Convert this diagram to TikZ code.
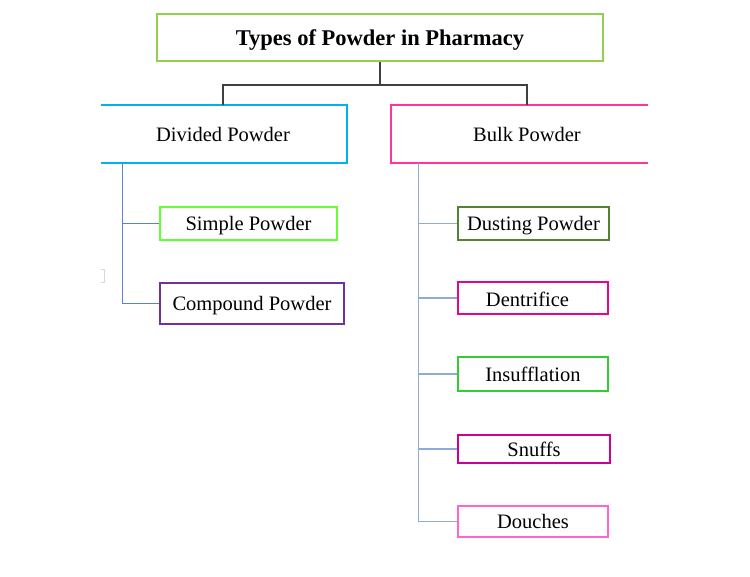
\documentclass[tikz,border=0pt]{standalone}
\usepackage{fontspec}
\setmainfont{Liberation Serif}
\definecolor{cTitle}{HTML}{92D050}
\definecolor{cDiv}{HTML}{00B0F0}
\definecolor{cBulk}{HTML}{FF3399}
\definecolor{cSimple}{HTML}{66FF33}
\definecolor{cComp}{HTML}{7030A0}
\definecolor{cDust}{HTML}{548235}
\definecolor{cDent}{HTML}{E0088F}
\definecolor{cInsuf}{HTML}{33CC33}
\definecolor{cSnuff}{HTML}{CC0099}
\definecolor{cDouch}{HTML}{FF66CC}
\definecolor{cTrunk}{HTML}{404040}
\definecolor{cBrL}{HTML}{5B82D0}
\definecolor{cBrR}{HTML}{8EAADB}
\tikzset{
  txt/.style={font=\fontsize{20.5}{24}\selectfont, text=black, inner sep=0pt, text height=14.5pt, text depth=0.1pt},
  box/.style={draw, line width=2pt, fill=white, inner sep=0pt, font=\fontsize{20.5}{24}\selectfont, text height=14.5pt, text depth=0.1pt},
  trunk/.style={draw=cTrunk, line width=1.2pt},
  brL/.style={draw=cBrL, line width=1.3pt},
  brR/.style={draw=cBrR, line width=1.3pt},
}
\begin{document}
\begin{tikzpicture}[x=1pt,y=-1pt]
\useasboundingbox (0,0) rectangle (750,577);
% title
\node[box, draw=cTitle, minimum width=446pt, minimum height=47pt, text height=16pt, text depth=0.2pt,
  font=\fontsize{22.5}{26}\selectfont\bfseries] (title) at (380,37.5) {Types of Powder in Pharmacy};
% level 1 boxes (open on one side)
\node[inner sep=0pt, minimum width=246pt, minimum height=58pt] (div) at (224,134) {};
\draw[cDiv, line width=2pt] (div.north west) -- (div.north east) -- (div.south east) -- (div.south west);
\node[txt] (divtxt) at (223,134) {Divided Powder};
\node[inner sep=0pt, minimum width=257pt, minimum height=58pt] (bulk) at (519.5,134) {};
\draw[cBulk, line width=2pt] (bulk.north east) -- (bulk.north west) -- (bulk.south west) -- (bulk.south east);
\node[txt] (bulktxt) at (527,134) {Bulk Powder};
% trunk connectors
\draw[trunk] (title.south) -- ++(0,23) -| (divtxt.north |- div.north);
\draw[trunk] (title.south) -- ++(0,23) -| (bulktxt.north |- bulk.north);
% divided children
\node[box, draw=cSimple, minimum width=177pt, minimum height=33pt] (simple) at (248.5,223.5) {Simple Powder};
\node[box, draw=cComp, minimum width=184pt, minimum height=41pt] (comp) at (252,303.5) {Compound Powder};
\draw[brL] ([xshift=22pt]div.south west) |- (simple.west);
\draw[brL] ([xshift=22pt]div.south west) |- (comp.west);
% small faint mark
\draw[black!15, line width=0.8pt] (101,269) -- (104,269) -- (104,282) -- (101,282);
% bulk children
\node[box, draw=cDust, minimum width=151pt, minimum height=33pt] (dust) at (533.5,223.5) {Dusting Powder};
\node[box, draw=cDent, minimum width=150pt, minimum height=32pt] (dent) at (533,298) {};
\node[txt] (denttxt) at (527.5,299) {Dentrifice};
\node[box, draw=cInsuf, minimum width=150pt, minimum height=34pt] (insuf) at (533,374) {Insufflation};
\node[box, draw=cSnuff, minimum width=152pt, minimum height=28pt] (snuff) at (534,449) {Snuffs};
\node[box, draw=cDouch, minimum width=150pt, minimum height=31pt] (douch) at (533,521.5) {Douches};
\foreach \c in {dust,dent,insuf,snuff,douch}
  \draw[brR] ([xshift=28pt]bulk.south west) |- (\c.west);
\end{tikzpicture}
\end{document}
